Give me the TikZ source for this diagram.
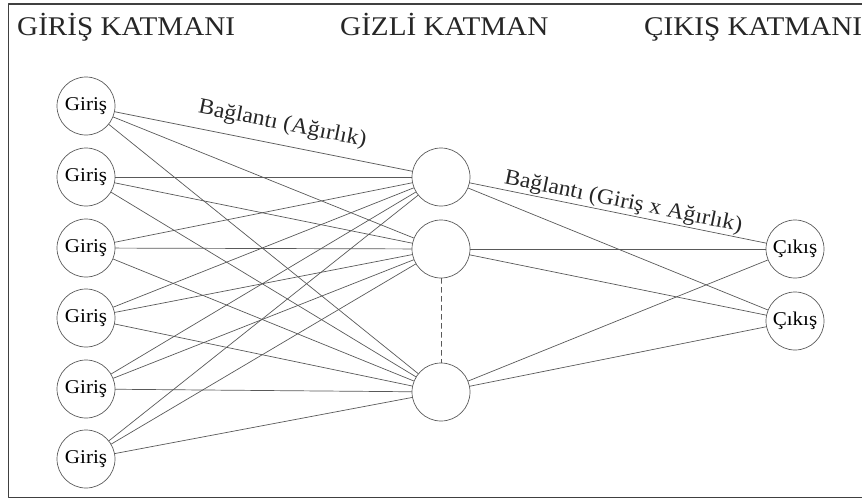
\documentclass[tikz,border=0pt]{standalone}
\usepackage{fontspec}
\setmainfont{Liberation Serif}[FakeStretch=1.08]
\begin{document}
\begin{tikzpicture}[x=1pt, y=-1pt, line cap=round, line join=round,
    noron/.style={circle, draw=black!65, line width=0.7pt, minimum size=58pt, inner sep=0pt, font=\fontsize{19.5}{20}\selectfont},
    bag/.style={draw=black!65, line width=0.7pt},
    baslik/.style={anchor=base west, inner sep=0pt, font=\fontsize{27}{28}\selectfont, text=black!85},
    etiket/.style={sloped, inner sep=0pt, font=\fontsize{22}{24}\selectfont, text=black!85}]

    \useasboundingbox (0,0) rectangle (862,499);
    \clip (0,0) rectangle (862,499);
    \draw[line width=1.5pt, black!75] (8.5,4) rectangle (880,497.5);

    % basliklar
    \node[baslik] (tgiris) at (17,35) {GİRİŞ KATMANI};
    \node[baslik] (tgizli) at (340,35) {GİZLİ KATMAN};
    \node[baslik] (tcikis) at (644,35) {ÇIKIŞ KATMANI};

    % giris katmani
    \node[noron] (g1) at (86,106) {Giriş};
    \node[noron] (g2) at (86,177) {Giriş};
    \node[noron] (g3) at (86,248) {Giriş};
    \node[noron] (g4) at (86,318) {Giriş};
    \node[noron] (g5) at (86,389) {Giriş};
    \node[noron] (g6) at (86,459) {Giriş};

    % gizli katman
    \node[noron] (h1) at (441,177) {};
    \node[noron] (h2) at (441,249) {};
    \node[noron] (h3) at (441,392) {};

    % cikis katmani
    \node[noron] (c1) at (795,249) {Çıkış};
    \node[noron] (c2) at (795,321) {Çıkış};

    \draw[bag] (g1) -- node[etiket, above=10pt, pos=0.55] {Bağlantı (Ağırlık)} (h1);
    \draw[bag] (g1) -- (h2);
    \draw[bag] (g1) -- (h3);
    \draw[bag] (g2) -- (h1);
    \draw[bag] (g2) -- (h2);
    \draw[bag] (g2) -- (h3);
    \draw[bag] (g3) -- (h1);
    \draw[bag] (g3) -- (h2);
    \draw[bag] (g3) -- (h3);
    \draw[bag] (g4) -- (h1);
    \draw[bag] (g4) -- (h2);
    \draw[bag] (g4) -- (h3);
    \draw[bag] (g5) -- (h1);
    \draw[bag] (g5) -- (h2);
    \draw[bag] (g5) -- (h3);
    \draw[bag] (g6) -- (h1);
    \draw[bag] (g6) -- (h2);
    \draw[bag] (g6) -- (h3);

    \draw[bag] (h1) -- node[etiket, above=1pt, pos=0.51] {Bağlantı (Giriş x Ağırlık)} (c1);
    \draw[bag] (h1) -- (c2);
    \draw[bag] (h2) -- (c1);
    \draw[bag] (h2) -- (c2);
    \draw[bag] (h3) -- (c1);
    \draw[bag] (h3) -- (c2);

    \draw[bag, dash pattern=on 5pt off 4pt] (h2) -- (h3);

\end{tikzpicture}
\end{document}
